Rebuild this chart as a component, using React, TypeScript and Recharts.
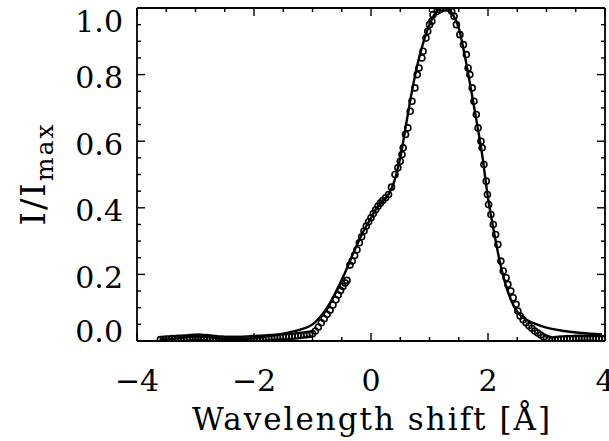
import React from 'react';
import { ComposedChart, Line, Scatter, XAxis, YAxis, ReferenceLine } from 'recharts';

// Fitted profile (solid line)
const fitX = [-3.6, -3.3, -3.0, -2.8, -2.5, -2.2, -2.0, -1.8, -1.6, -1.4, -1.2, -1.0, -0.9, -0.75, -0.6, -0.45, -0.3, -0.15, 0.0, 0.1, 0.2, 0.3, 0.4, 0.5, 0.6, 0.7, 0.8, 0.9, 1.0, 1.1, 1.2, 1.3, 1.4, 1.5, 1.6, 1.7, 1.8, 1.9, 2.0, 2.1, 2.2, 2.3, 2.4, 2.5, 2.6, 2.8, 3.0, 3.3, 3.6, 3.95];
const fitY = [0.004, 0.008, 0.013, 0.012, 0.006, 0.006, 0.008, 0.013, 0.019, 0.026, 0.035, 0.05, 0.066, 0.1, 0.148, 0.203, 0.265, 0.322, 0.37, 0.4, 0.42, 0.44, 0.48, 0.55, 0.65, 0.75, 0.835, 0.9, 0.95, 0.985, 1.0, 1.0, 0.98, 0.94, 0.86, 0.765, 0.665, 0.56, 0.43, 0.33, 0.24, 0.17, 0.12, 0.088, 0.07, 0.052, 0.04, 0.03, 0.024, 0.02];

// Observed profile (open circles)
const obsX = [-3.6, -3.55, -3.5, -3.45, -3.4, -3.35, -3.3, -3.25, -3.2, -3.15, -3.1, -3.05, -3.0, -2.95, -2.9, -2.85, -2.8, -2.75, -2.7, -2.65, -2.6, -2.55, -2.5, -2.45, -2.4, -2.35, -2.3, -2.25, -2.2, -2.15, -2.1, -2.05, -2.0, -1.95, -1.9, -1.85, -1.8, -1.75, -1.7, -1.65, -1.6, -1.55, -1.5, -1.45, -1.4, -1.35, -1.3, -1.25, -1.2, -1.15, -1.1, -1.05, -1.0, -0.95, -0.9, -0.85, -0.8, -0.75, -0.7, -0.65, -0.6, -0.56, -0.52, -0.48, -0.44, -0.41, -0.36, -0.32, -0.28, -0.24, -0.2, -0.16, -0.12, -0.08, -0.04, 0.0, 0.04, 0.08, 0.12, 0.16, 0.2, 0.25, 0.3, 0.35, 0.41, 0.46, 0.5, 0.53, 0.55, 0.59, 0.63, 0.67, 0.7, 0.75, 0.79, 0.82, 0.87, 0.89, 0.94, 0.97, 1.0, 1.04, 1.06, 1.13, 1.18, 1.23, 1.28, 1.33, 1.38, 1.42, 1.46, 1.52, 1.58, 1.63, 1.66, 1.69, 1.73, 1.76, 1.8, 1.83, 1.88, 1.9, 1.93, 1.97, 1.99, 2.01, 2.05, 2.09, 2.13, 2.17, 2.22, 2.26, 2.31, 2.34, 2.39, 2.43, 2.48, 2.51, 2.55, 2.6, 2.65, 2.7, 2.75, 2.8, 2.85, 2.9, 2.95, 3.0, 3.05, 3.1, 3.15, 3.2, 3.25, 3.3, 3.35, 3.4, 3.45, 3.5, 3.55, 3.6, 3.65, 3.7, 3.75, 3.8, 3.85, 3.9, 3.95, 4.0];
const obsY = [0.004, 0.005, 0.006, 0.006, 0.007, 0.007, 0.008, 0.008, 0.009, 0.009, 0.01, 0.011, 0.011, 0.012, 0.011, 0.01, 0.01, 0.009, 0.008, 0.007, 0.006, 0.006, 0.005, 0.005, 0.005, 0.005, 0.005, 0.005, 0.005, 0.006, 0.006, 0.007, 0.007, 0.008, 0.008, 0.009, 0.009, 0.01, 0.01, 0.011, 0.011, 0.012, 0.012, 0.013, 0.013, 0.014, 0.015, 0.016, 0.017, 0.018, 0.019, 0.02, 0.022, 0.03, 0.042, 0.055, 0.067, 0.08, 0.092, 0.108, 0.124, 0.138, 0.152, 0.164, 0.174, 0.182, 0.228, 0.24, 0.257, 0.274, 0.295, 0.313, 0.33, 0.345, 0.358, 0.37, 0.383, 0.394, 0.405, 0.414, 0.422, 0.43, 0.44, 0.462, 0.5, 0.52, 0.54, 0.56, 0.58, 0.62, 0.64, 0.69, 0.72, 0.76, 0.8, 0.82, 0.85, 0.87, 0.91, 0.93, 0.95, 0.96, 0.98, 0.99, 0.995, 1.0, 1.0, 1.0, 0.99, 0.975, 0.95, 0.92, 0.89, 0.86, 0.82, 0.8, 0.76, 0.72, 0.68, 0.64, 0.6, 0.58, 0.53, 0.48, 0.44, 0.41, 0.38, 0.35, 0.32, 0.29, 0.24, 0.21, 0.19, 0.17, 0.15, 0.13, 0.11, 0.09, 0.075, 0.064, 0.055, 0.046, 0.038, 0.03, 0.024, 0.018, 0.012, 0.008, 0.005, 0.003, 0.004, 0.005, 0.006, 0.006, 0.007, 0.007, 0.007, 0.008, 0.008, 0.008, 0.008, 0.008, 0.008, 0.008, 0.007, 0.007, 0.007, 0.007];

// Axis ticks
const xTicks = [-4, -3.5, -3, -2.5, -2, -1.5, -1, -0.5, 0, 0.5, 1, 1.5, 2, 2.5, 3, 3.5, 4];
const xMajor = [-4, -2, 0, 2, 4];
const xMajorLabels = ['\u22124', '\u22122', '0', '2', '4'];
const yTicks = [0, 0.05, 0.1, 0.15, 0.2, 0.25, 0.3, 0.35, 0.4, 0.45, 0.5, 0.55, 0.6, 0.65, 0.7, 0.75, 0.8, 0.85, 0.9, 0.95, 1.0];
const yMajor = [0, 0.2, 0.4, 0.6, 0.8, 1.0];
const yMajorLabels = ['0.0', '0.2', '0.4', '0.6', '0.8', '1.0'];

const fitData = fitX.map((x, i) => ({ x, y: fitY[i] }));
const obsData = obsX.map((x, i) => ({ x, y: obsY[i] }));

const W = 609;
const H = 441;
const MARGIN = { top: 8, right: 4, bottom: 0, left: 0 };
const Y_AXIS_W = 137;
const X_AXIS_H = 100;
const PLOT_TOP = MARGIN.top;
const PLOT_RIGHT = W - MARGIN.right;
const FONT = '"DejaVu Serif", serif';

const isMajor = (arr: number[], v: number) => arr.findIndex((m) => Math.abs(m - v) < 1e-6);

const XTick = (props: any) => {
  const { x, y, payload } = props;
  const idx = isMajor(xMajor, payload.value);
  const len = idx >= 0 ? 8 : 4;
  return (
    <g>
      <line x1={x} x2={x} y1={y} y2={y - len} stroke="#000" strokeWidth={1.4} />
      <line x1={x} x2={x} y1={PLOT_TOP} y2={PLOT_TOP + len} stroke="#000" strokeWidth={1.4} />
      {idx >= 0 && (
        <text x={x} y={y + 50} textAnchor="middle" fontFamily={FONT} fontSize={30} fill="#000">
          {xMajorLabels[idx]}
        </text>
      )}
    </g>
  );
};

const YTick = (props: any) => {
  const { x, y, payload } = props;
  const idx = isMajor(yMajor, payload.value);
  const len = idx >= 0 ? 8 : 4;
  let dy = 13.5;
  if (idx === yMajor.length - 1) dy = 24;
  if (idx === 0) dy = 1;
  return (
    <g>
      <line x1={x} x2={x + len} y1={y} y2={y} stroke="#000" strokeWidth={1.4} />
      <line x1={PLOT_RIGHT} x2={PLOT_RIGHT - len} y1={y} y2={y} stroke="#000" strokeWidth={1.4} />
      {idx >= 0 && (
        <text x={x - 14} y={y + dy} textAnchor="end" fontFamily={FONT} fontSize={30} fill="#000">
          {yMajorLabels[idx]}
        </text>
      )}
    </g>
  );
};

const YLabel = () => (
  <text
    x={45}
    y={174}
    transform="rotate(-90 45 174)"
    textAnchor="middle"
    fontFamily={FONT}
    fontSize={34}
    fill="#000"
    letterSpacing={2}
  >
    I/I
    <tspan fontSize={25} dy={8}>max</tspan>
  </text>
);

const XLabel = () => (
  <text
    x={372}
    y={430}
    textAnchor="middle"
    fontFamily={FONT}
    fontSize={31}
    fill="#000"
    letterSpacing={2}
  >
    Wavelength shift [Å]
  </text>
);

const Circle = (props: any) => (
  <circle cx={props.cx} cy={props.cy} r={3} fill="none" stroke="#000" strokeWidth={1.6} />
);

export default function App() {
  return (
    <div style={{ position: 'absolute', left: 0, top: 0, width: W, height: H, background: '#fff' }}>
      <ComposedChart width={W} height={H} margin={MARGIN}>
        <XAxis
          dataKey="x"
          type="number"
          domain={[-4, 4]}
          ticks={xTicks}
          interval={0}
          allowDataOverflow
          height={X_AXIS_H}
          tickSize={0}
          tickMargin={0}
          tickLine={false}
          axisLine={{ stroke: '#000', strokeWidth: 1.8 }}
          tick={<XTick />}
          label={<XLabel />}
        />
        <YAxis
          dataKey="y"
          type="number"
          domain={[0, 1]}
          ticks={yTicks}
          interval={0}
          allowDataOverflow
          width={Y_AXIS_W}
          tickSize={0}
          tickMargin={0}
          tickLine={false}
          axisLine={{ stroke: '#000', strokeWidth: 1.8 }}
          tick={<YTick />}
          label={<YLabel />}
        />
        <ReferenceLine y={1} stroke="#000" strokeWidth={1.8} />
        <ReferenceLine x={4} stroke="#000" strokeWidth={1.8} />
        <Scatter data={obsData} dataKey="y" shape={<Circle />} isAnimationActive={false} />
        <Line
          data={fitData}
          dataKey="y"
          type="monotone"
          stroke="#000"
          strokeWidth={2.4}
          dot={false}
          activeDot={false}
          isAnimationActive={false}
        />
      </ComposedChart>
    </div>
  );
}
